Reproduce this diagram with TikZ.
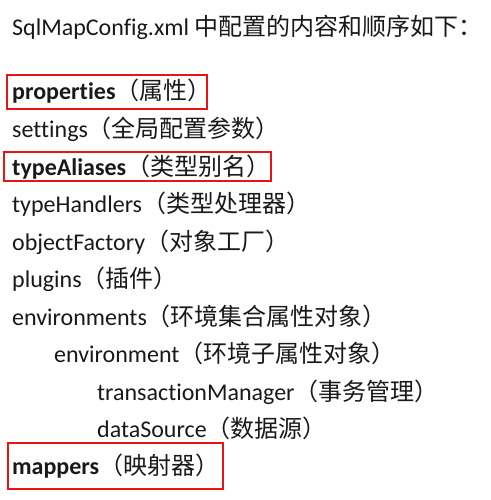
\documentclass[tikz,border=0pt]{standalone}
\usepackage{fontspec}
\setmainfont{Carlito}[Ligatures=CommonOff]
\newfontfamily\cjk{Noto Sans CJK SC}
\usetikzlibrary{fit}
\definecolor{boxred}{RGB}{235,20,20}
\definecolor{textgray}{RGB}{25,25,25}
\tikzset{
	line/.style={anchor=base west, inner sep=0pt, text=textgray, font=\fontsize{24}{24}\selectfont},
	redbox/.style={draw=boxred, line width=1.6pt, inner sep=0pt}
}
\begin{document}
\begin{tikzpicture}[x=1pt,y=-1pt]
		
		\useasboundingbox (0,0) rectangle (490,500);
		
		%Title
		\node[line] (title) at (12,36) {SqlMapConfig.xml {\cjk 中配置的内容和顺序如下：}};
		
		%Elements of the configuration
		\node[line] (prop) at (12,100) {\textbf{properties}{\cjk（属性）}};
		\node[line] (sett) at (12,137) {settings{\cjk（全局配置参数）}};
		\node[line] (alias) at (12,175) {\textbf{typeAliases}{\cjk（类型别名）}};
		\node[line] (handl) at (12,212) {typeHandlers{\cjk（类型处理器）}};
		\node[line] (objf) at (12,250) {objectFactory{\cjk（对象工厂）}};
		\node[line] (plug) at (12,287) {plugins{\cjk（插件）}};
		\node[line] (envs) at (12,325) {environments{\cjk（环境集合属性对象）}};
		\node[line] (env) at (54,362) {environment{\cjk（环境子属性对象）}};
		\node[line] (trans) at (97,400) {transactionManager{\cjk（事务管理）}};
		\node[line] (dsrc) at (97,437) {dataSource{\cjk（数据源）}};
		\node[line] (mapp) at (12,474) {\textbf{mappers}{\cjk（映射器）}};
		
		%Red boxes
		\draw[redbox] (7,75) rectangle (207,109);
		\draw[redbox] (4,152) rectangle (271,181);
		\draw[redbox] (8,443) rectangle (223,489);
		
\end{tikzpicture}
\end{document}
